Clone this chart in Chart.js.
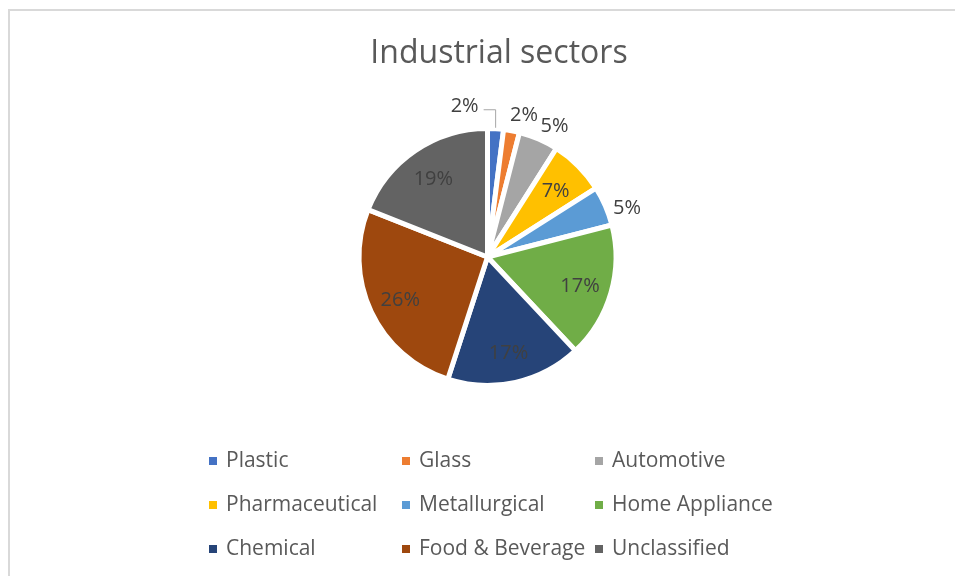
<!DOCTYPE html>
<html>
<head>
<meta charset="utf-8">
<script src="https://cdn.jsdelivr.net/npm/chart.js@4"></script>
<style>
  html, body { margin:0; padding:0; background:#fff; }
  #wrap { position:relative; width:955px; height:576px; }
</style>
</head>
<body>
<div id="wrap"><canvas id="pie" width="955" height="576"></canvas></div>
<script>
const sectors = ["Plastic", "Glass", "Automotive", "Pharmaceutical", "Metallurgical",
                 "Home Appliance", "Chemical", "Food & Beverage", "Unclassified"];
const shares = [2, 2, 5, 7, 5, 17, 17, 26, 19];
const colors = ["#4472C4", "#ED7D31", "#A5A5A5", "#FFC000", "#5B9BD5",
                "#70AD47", "#264478", "#9E480E", "#636363"];
const titleText = "Industrial sectors";

const FONT = "'Open Sans', 'Liberation Sans', sans-serif";

// frame line on top and left, plus the title (sits a bit right of the pie centre)
const framePlugin = {
  id:"frame",
  beforeDraw(chart) {
    const c = chart.ctx;
    c.save();
    c.fillStyle = "#d9d9d9";
    c.fillRect(8, 9, chart.width, 2);
    c.fillRect(8, 9, 2, chart.height);
    c.font = "32px " + FONT;
    c.fillStyle = "#595959";
    c.textAlign = "center";
    c.textBaseline = "alphabetic";
    c.fillText(titleText, 499, 63);
    c.restore();
  }
};

// percent labels: inside for big slices, outside for small ones
const labelPlugin = {
  id:"pctLabels",
  afterDatasetsDraw(chart) {
    const c = chart.ctx;
    const arcs = chart.getDatasetMeta(0).data;
    const total = shares.reduce((a, b) => a + b, 0);
    c.save();
    c.font = "20px " + FONT;
    c.fillStyle = "#404040";
    c.textBaseline = "middle";
    arcs.forEach((arc, i) => {
      const p = arc.getProps(["x", "y", "startAngle", "endAngle", "outerRadius"], true);
      const mid = (p.startAngle + p.endAngle) / 2;
      const pct = Math.round(shares[i] / total * 100) + "%";
      if (shares[i] >= 7) {
        const r = p.outerRadius * 0.75;
        c.textAlign = "center";
        c.fillText(pct, p.x + Math.cos(mid) * r, p.y + Math.sin(mid) * r + 2);
      } else if (i === 0) {
        // first slice: label pushed left with a leader line
        const ax = p.x + Math.cos(mid) * (p.outerRadius + 1);
        const ay = p.y + Math.sin(mid) * (p.outerRadius + 1);
        c.strokeStyle = "#a6a6a6";
        c.lineWidth = 1;
        c.beginPath();
        c.moveTo(ax, ay);
        c.lineTo(ax, ay - 18);
        c.lineTo(ax - 12, ay - 18);
        c.stroke();
        c.textAlign = "right";
        c.fillText(pct, ax - 17, ay - 21);
      } else {
        const a = mid + 0.06;
        const r = p.outerRadius + 20;
        c.textAlign = "center";
        c.fillText(pct, p.x + Math.cos(a) * r, p.y + Math.sin(a) * r + 2);
      }
    });
    c.restore();
  }
};

// legend in a 3-column grid under the pie
const gridLegend = {
  id:"gridLegend",
  afterDraw(chart) {
    const c = chart.ctx;
    c.save();
    c.font = "21px " + FONT;
    c.textBaseline = "middle";
    c.textAlign = "left";
    sectors.forEach((name, i) => {
      const x = 209 + (i % 3) * 193;
      const y = 461 + Math.floor(i / 3) * 44;
      c.fillStyle = colors[i];
      c.fillRect(x, y - 4, 8, 8);
      c.fillStyle = "#595959";
      c.fillText(name, x + 17, y);
    });
    c.restore();
  }
};

new Chart(document.getElementById("pie"), {
  type:"pie",
  data:{
    labels:sectors,
    datasets:[{
      data:shares,
      backgroundColor:colors,
      borderColor:"#ffffff",
      borderWidth:5,
      radius:128.5
    }]
  },
  options:{
    responsive:false,
    animation:false,
    layout:{ padding:{ top:100, left:20, right:0, bottom:162 } },
    plugins:{
      legend:{ display:false },
      tooltip:{ enabled:false },
      title:{ display:false }
    }
  },
  plugins:[framePlugin, labelPlugin, gridLegend]
});
</script>
</body>
</html>
